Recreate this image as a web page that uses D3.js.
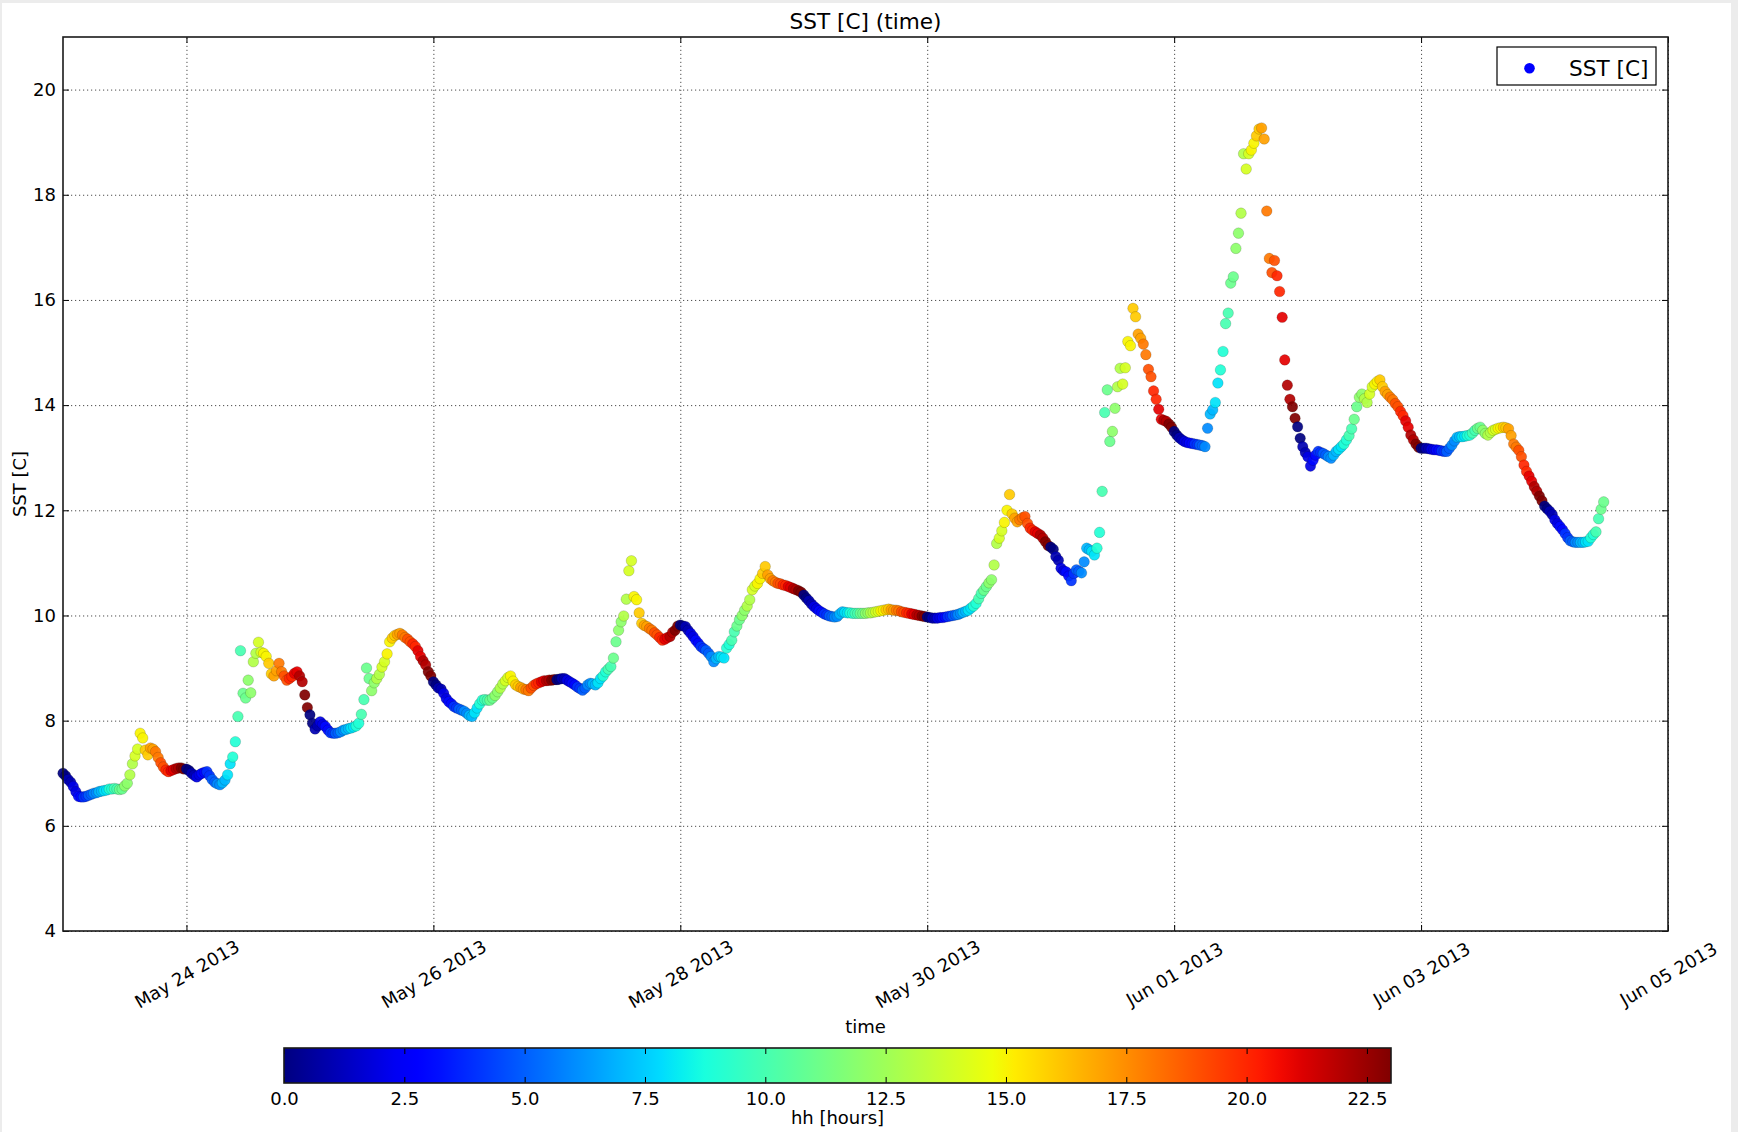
<!DOCTYPE html>
<html>
<head>
<meta charset="utf-8">
<script src="https://cdnjs.cloudflare.com/ajax/libs/d3/7.8.5/d3.min.js"></script>
<style>
  html, body { margin: 0; padding: 0; background: #ececec; }
  svg { display: block; }
  text { font-family: "DejaVu Sans", sans-serif; fill: #000; }
</style>
</head>
<body>
<svg id="chart" width="1738" height="1132"></svg>
<script>
// SST readings, one every 30 minutes, from 23 May 2013 00:00 (UTC)
var startTime = Date.UTC(2013, 4, 23, 0, 0);
var stepMinutes = 30;

var sstMay23 = [7.00, 6.95, 6.88, 6.83, 6.75, 6.65, 6.56, 6.55, 6.55, 6.56, 6.58, 6.60,
                6.62, 6.63, 6.65, 6.66, 6.67, 6.68, 6.70, 6.70, 6.71, 6.70, 6.69, 6.70,
                6.76, 6.81, 6.97, 7.18, 7.33, 7.46, 7.76, 7.67, 7.44, 7.35, 7.48, 7.46,
                7.41, 7.30, 7.20, 7.12, 7.06, 7.03, 7.05, 7.07, 7.09, 7.10, 7.10, 7.08];
var sstMay24 = [7.08, 7.05, 7.00, 6.96, 6.93, 6.97, 7.00, 7.02, 7.03, 6.95, 6.88, 6.83,
                6.80, 6.78, 6.82, 6.87, 6.97, 7.18, 7.31, 7.60, 8.08, 9.33, 8.52, 8.43,
                8.77, 8.53, 9.12, 9.28, 9.49, 9.30, 9.28, 9.22, 9.09, 8.89, 8.85, 8.95,
                9.09, 8.93, 8.85, 8.77, 8.80, 8.84, 8.90, 8.93, 8.85, 8.74, 8.49, 8.25];
var sstMay25 = [8.11, 7.95, 7.84, 7.90, 7.98, 7.93, 7.89, 7.82, 7.77, 7.76, 7.76, 7.77,
                7.79, 7.82, 7.83, 7.85, 7.86, 7.88, 7.90, 7.95, 8.12, 8.40, 9.00, 8.80,
                8.57, 8.72, 8.80, 8.88, 9.02, 9.12, 9.27, 9.50, 9.57, 9.62, 9.64, 9.66,
                9.63, 9.58, 9.55, 9.50, 9.46, 9.41, 9.33, 9.22, 9.14, 9.06, 8.93, 8.85];
var sstMay26 = [8.74, 8.68, 8.62, 8.60, 8.52, 8.42, 8.36, 8.32, 8.27, 8.24, 8.22, 8.20,
                8.18, 8.14, 8.10, 8.08, 8.15, 8.24, 8.32, 8.39, 8.40, 8.39, 8.39, 8.43,
                8.48, 8.55, 8.62, 8.70, 8.76, 8.82, 8.85, 8.75, 8.68, 8.65, 8.63, 8.60,
                8.59, 8.57, 8.62, 8.67, 8.70, 8.72, 8.74, 8.76, 8.76, 8.77, 8.77, 8.78];
var sstMay27 = [8.78, 8.79, 8.80, 8.80, 8.77, 8.74, 8.71, 8.68, 8.64, 8.61, 8.58, 8.62,
                8.68, 8.71, 8.70, 8.68, 8.72, 8.80, 8.85, 8.93, 8.98, 9.03, 9.19, 9.50,
                9.72, 9.88, 9.99, 10.31, 10.85, 11.04, 10.36, 10.30, 10.05, 9.85, 9.81, 9.79,
                9.75, 9.72, 9.67, 9.63, 9.58, 9.53, 9.55, 9.58, 9.60, 9.68, 9.72, 9.80];
var sstMay28 = [9.82, 9.80, 9.79, 9.72, 9.66, 9.60, 9.53, 9.47, 9.41, 9.37, 9.34, 9.28,
                9.22, 9.12, 9.18, 9.22, 9.21, 9.19, 9.38, 9.45, 9.53, 9.69, 9.80, 9.92,
                10.00, 10.10, 10.18, 10.30, 10.49, 10.56, 10.61, 10.70, 10.80, 10.93, 10.77, 10.70,
                10.66, 10.63, 10.61, 10.60, 10.58, 10.57, 10.55, 10.53, 10.51, 10.49, 10.47, 10.44];
var sstMay29 = [10.39, 10.33, 10.28, 10.22, 10.17, 10.13, 10.09, 10.06, 10.03, 10.01, 9.99, 9.98,
                9.97, 9.98, 10.03, 10.07, 10.06, 10.05, 10.05, 10.04, 10.04, 10.04, 10.04, 10.04,
                10.04, 10.05, 10.05, 10.06, 10.07, 10.08, 10.09, 10.10, 10.11, 10.12, 10.11, 10.10,
                10.10, 10.09, 10.07, 10.06, 10.05, 10.04, 10.03, 10.02, 10.01, 10.00, 9.99, 9.98];
var sstMay30 = [9.97, 9.96, 9.95, 9.95, 9.95, 9.96, 9.96, 9.97, 9.98, 9.99, 10.00, 10.01,
                10.02, 10.04, 10.06, 10.08, 10.10, 10.14, 10.18, 10.23, 10.32, 10.42, 10.48, 10.55,
                10.62, 10.68, 10.96, 11.37, 11.47, 11.61, 11.77, 12.00, 12.30, 11.93, 11.85, 11.78,
                11.82, 11.86, 11.88, 11.75, 11.66, 11.62, 11.59, 11.56, 11.53, 11.47, 11.40, 11.33];
var sstMay31 = [11.30, 11.26, 11.12, 11.05, 10.90, 10.85, 10.83, 10.75, 10.66, 10.80, 10.87, 10.84,
                10.81, 11.02, 11.28, 11.25, 11.22, 11.15, 11.28, 11.58, 12.36, 13.86, 14.29, 13.31,
                13.50, 13.94, 14.35, 14.70, 14.40, 14.71, 15.21, 15.13, 15.84, 15.68, 15.35, 15.27,
                15.16, 14.96, 14.68, 14.54, 14.27, 14.11, 13.92, 13.73, 13.71, 13.69, 13.64, 13.58];
var sstJun01 = [13.50, 13.43, 13.38, 13.34, 13.31, 13.29, 13.28, 13.27, 13.26, 13.25, 13.24, 13.23,
                13.21, 13.56, 13.83, 13.91, 14.05, 14.42, 14.67, 15.02, 15.55, 15.75, 16.32, 16.44,
                16.98, 17.27, 17.65, 18.78, 18.49, 18.78, 18.85, 18.98, 19.12, 19.25, 19.27, 19.06,
                17.69, 16.79, 16.52, 16.75, 16.46, 16.16, 15.67, 14.86, 14.38, 14.11, 13.97, 13.75];
var sstJun02 = [13.59, 13.37, 13.21, 13.10, 13.02, 12.84, 12.95, 13.05, 13.12, 13.10, 13.08, 13.05,
                13.02, 12.99, 13.05, 13.12, 13.16, 13.21, 13.26, 13.34, 13.42, 13.55, 13.73, 13.97,
                14.15, 14.21, 14.12, 14.05, 14.21, 14.35, 14.40, 14.45, 14.48, 14.35, 14.26, 14.20,
                14.15, 14.10, 14.03, 13.97, 13.88, 13.80, 13.70, 13.58, 13.43, 13.34, 13.26, 13.20];
var sstJun03 = [13.18, 13.18, 13.18, 13.17, 13.16, 13.15, 13.15, 13.14, 13.13, 13.12, 13.12, 13.18,
                13.24, 13.32, 13.39, 13.40, 13.40, 13.41, 13.42, 13.43, 13.47, 13.52, 13.56, 13.58,
                13.52, 13.46, 13.43, 13.48, 13.52, 13.54, 13.56, 13.57, 13.58, 13.57, 13.55, 13.42,
                13.26, 13.20, 13.14, 13.02, 12.86, 12.74, 12.65, 12.55, 12.45, 12.36, 12.27, 12.18];
var sstJun04 = [12.08, 12.03, 11.98, 11.92, 11.82, 11.75, 11.69, 11.63, 11.56, 11.48, 11.42, 11.40,
                11.39, 11.39, 11.39, 11.39, 11.40, 11.41, 11.48, 11.54, 11.59, 11.84, 12.02, 12.16];

var xTicks = [Date.UTC(2013, 4, 24), Date.UTC(2013, 4, 26), Date.UTC(2013, 4, 28), Date.UTC(2013, 4, 30),
              Date.UTC(2013, 5, 1), Date.UTC(2013, 5, 3), Date.UTC(2013, 5, 5)].map(function(t) { return new Date(t); });
var yTicks = [4, 6, 8, 10, 12, 14, 16, 18, 20];
var hourTicks = [0, 2.5, 5, 7.5, 10, 12.5, 15, 17.5, 20, 22.5];

var sstValues = [].concat(sstMay23, sstMay24, sstMay25, sstMay26, sstMay27, sstMay28, sstMay29,
                          sstMay30, sstMay31, sstJun01, sstJun02, sstJun03, sstJun04);

var data = sstValues.map(function(v, i) {
  var t = new Date(startTime + i * stepMinutes * 60000);
  return { time: t, sst: v, hh: t.getUTCHours() };
});

// matplotlib "jet" colormap
var jetR = d3.scaleLinear().domain([0, 0.35, 0.66, 0.89, 1]).range([0, 0, 1, 1, 0.5]).clamp(true);
var jetG = d3.scaleLinear().domain([0, 0.125, 0.375, 0.64, 0.91, 1]).range([0, 0, 1, 1, 0, 0]).clamp(true);
var jetB = d3.scaleLinear().domain([0, 0.11, 0.34, 0.65, 1]).range([0.5, 1, 1, 0, 0]).clamp(true);
function jet(t) {
  return d3.rgb(jetR(t) * 255, jetG(t) * 255, jetB(t) * 255).toString();
}

var svg = d3.select('#chart');
svg.append('rect').attr('x', 2).attr('y', 3).attr('width', 1729).attr('height', 1129).attr('fill', '#fff');

var plotL = 63, plotR = 1668, plotT = 37, plotB = 931;

var x = d3.scaleUtc()
          .domain([new Date(Date.UTC(2013, 4, 23)), new Date(Date.UTC(2013, 5, 5))])
          .range([plotL, plotR]);
var y = d3.scaleLinear().domain([4, 21]).range([plotB, plotT]);
var hourScale = d3.scaleLinear().domain([0, 23]).range([284, 1391]);

// grid
var grid = svg.append('g').attr('class', 'grid');
grid.append('g')
    .attr('transform', 'translate(0,' + plotB + ')')
    .call(d3.axisBottom(x).tickValues(xTicks).tickSize(-(plotB - plotT)).tickFormat(''));
grid.append('g')
    .attr('transform', 'translate(' + plotL + ',0)')
    .call(d3.axisLeft(y).tickValues(yTicks).tickSize(-(plotR - plotL)).tickFormat(''));
grid.selectAll('.domain').remove();
grid.selectAll('text').remove();
grid.selectAll('line')
    .attr('stroke', '#4d4d4d')
    .attr('stroke-width', 1)
    .attr('stroke-dasharray', '1.2,2.8');

// scatter
svg.append('g')
   .selectAll('circle')
   .data(data)
   .join('circle')
   .attr('cx', function(d) { return x(d.time); })
   .attr('cy', function(d) { return y(d.sst); })
   .attr('r', 5.3)
   .attr('fill', function(d) { return jet(d.hh / 23); })
   .attr('fill-opacity', 0.92)
   .attr('stroke', 'rgba(0,0,0,0.22)')
   .attr('stroke-width', 0.7);

// axes, ticks pointing inwards
var axes = svg.append('g').attr('class', 'axes');
var fmt = d3.utcFormat('%b %d %Y');
var xAxis = axes.append('g')
               .attr('transform', 'translate(0,' + plotB + ')')
               .call(d3.axisBottom(x).tickValues(xTicks).tickSizeInner(-6).tickSizeOuter(0).tickFormat(fmt));
xAxis.selectAll('text')
     .attr('y', null).attr('dy', null)
     .attr('text-anchor', 'middle')
     .attr('dominant-baseline', 'central')
     .attr('transform', 'translate(0,43) rotate(-30)');

axes.append('g')
   .attr('transform', 'translate(0,' + plotT + ')')
   .call(d3.axisTop(x).tickValues(xTicks).tickSizeInner(-6).tickSizeOuter(0).tickFormat(''));

axes.append('g')
   .attr('transform', 'translate(' + plotL + ',0)')
   .call(d3.axisLeft(y).tickValues(yTicks).tickSizeInner(-6).tickSizeOuter(0).tickPadding(7).tickFormat(d3.format('d')));

axes.append('g')
   .attr('transform', 'translate(' + plotR + ',0)')
   .call(d3.axisRight(y).tickValues(yTicks).tickSizeInner(-6).tickSizeOuter(0).tickFormat(''));

axes.selectAll('.domain').remove();
axes.selectAll('.tick text').attr('font-size', 18).attr('font-family', '"DejaVu Sans", sans-serif').attr('fill', '#000');
axes.selectAll('.tick line').attr('stroke', '#000');

svg.append('rect')
   .attr('x', plotL).attr('y', plotT)
   .attr('width', plotR - plotL).attr('height', plotB - plotT)
   .attr('fill', 'none').attr('stroke', '#1a1a1a').attr('stroke-width', 1.6);

// titles
svg.append('text').attr('x', (plotL + plotR) / 2).attr('y', 29)
   .attr('text-anchor', 'middle').attr('font-size', 21.6).text('SST [C] (time)');
svg.append('text').attr('x', (plotL + plotR) / 2).attr('y', 1033)
   .attr('text-anchor', 'middle').attr('font-size', 18).text('time');
svg.append('text').attr('transform', 'translate(25.5,' + (plotT + plotB) / 2 + ') rotate(-90)')
   .attr('text-anchor', 'middle').attr('font-size', 18).text('SST [C]');

// colour bar
var cbTop = 1048, cbBottom = 1083;
var grad = svg.append('defs').append('linearGradient').attr('id', 'jetGrad');
d3.range(0, 1.0001, 0.02).forEach(function(t) {
  grad.append('stop').attr('offset', t).attr('stop-color', jet(t));
});
svg.append('rect')
   .attr('x', hourScale(0)).attr('y', cbTop)
   .attr('width', hourScale(23) - hourScale(0)).attr('height', cbBottom - cbTop)
   .attr('fill', 'url(#jetGrad)');

var cb = svg.append('g').attr('class', 'colorbar');
var cbAxis = cb.append('g')
                .attr('transform', 'translate(0,' + cbBottom + ')')
                .call(d3.axisBottom(hourScale).tickValues(hourTicks).tickSizeInner(-6).tickSizeOuter(0)
                        .tickPadding(9).tickFormat(d3.format('.1f')));
cb.append('g')
   .attr('transform', 'translate(0,' + cbTop + ')')
   .call(d3.axisTop(hourScale).tickValues(hourTicks).tickSizeInner(-6).tickSizeOuter(0).tickFormat(''));
cb.selectAll('.domain').remove();
cb.selectAll('.tick line').attr('stroke', '#000');
cbAxis.selectAll('text').attr('font-size', 18).attr('font-family', '"DejaVu Sans", sans-serif').attr('fill', '#000');

svg.append('rect')
   .attr('x', hourScale(0)).attr('y', cbTop)
   .attr('width', hourScale(23) - hourScale(0)).attr('height', cbBottom - cbTop)
   .attr('fill', 'none').attr('stroke', '#1a1a1a').attr('stroke-width', 1.6);

svg.append('text').attr('x', (hourScale(0) + hourScale(23)) / 2).attr('y', 1124)
   .attr('text-anchor', 'middle').attr('font-size', 18).text('hh [hours]');

// legend
var legend = svg.append('g');
legend.append('rect').attr('x', 1497).attr('y', 47).attr('width', 159).attr('height', 38)
      .attr('fill', '#fff').attr('stroke', '#000').attr('stroke-width', 1.2);
legend.append('circle').attr('cx', 1529.5).attr('cy', 68.3).attr('r', 5.3).attr('fill', '#0000ff');
legend.append('text').attr('x', 1569).attr('y', 76).attr('font-size', 21.6).text('SST [C]');
</script>
</body>
</html>
